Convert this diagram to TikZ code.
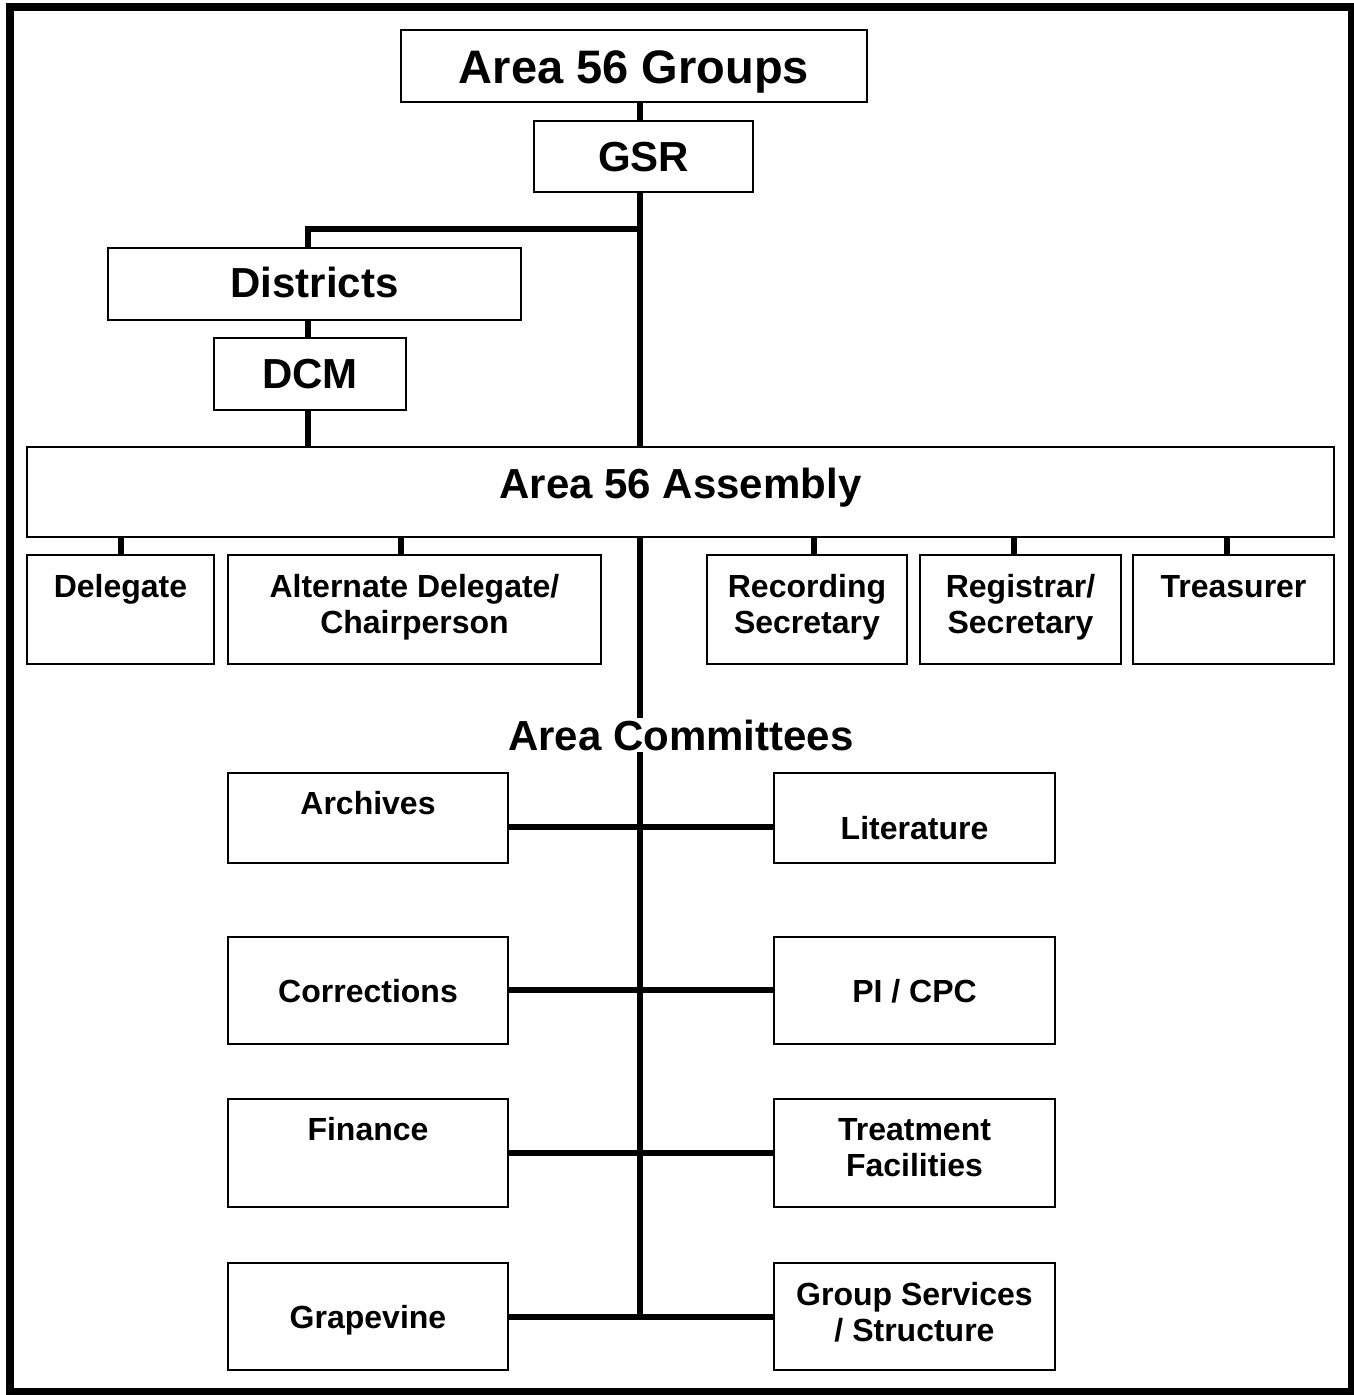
\documentclass[tikz,border=0pt]{standalone}
\usepackage{fontspec}
\setmainfont{Liberation Sans}
\usetikzlibrary{fit,calc}

\begin{document}
\begin{tikzpicture}[x=0.5pt,y=-0.5pt]
	% `unit' is used for the boxes (fitted to their two corners).
	% `link' is used for the thick connectors.
	\tikzstyle{unit} = [draw,line width=1pt,inner sep=0pt]
	\tikzstyle{link} = [line width=3pt]
	\tikzstyle{toptext} = [font=\bfseries\fontsize{23.5}{28}\selectfont,anchor=base,inner sep=0pt]
	\tikzstyle{bigtext} = [font=\bfseries\fontsize{21}{25}\selectfont,anchor=base,inner sep=0pt]
	\tikzstyle{smalltext} = [font=\bfseries\fontsize{16}{18}\selectfont,align=center,anchor=base,inner sep=0pt]
	%
	\useasboundingbox (0,0) rectangle (1353,1395);
	% Outer frame.
	\draw[line width=4pt] (10,7) rectangle (1352,1392);

	% Groups, districts and the assembly.
	\node[unit,fit={(401,30) (867,102)}] (groups) {};
	\node[unit,fit={(534,121) (753,192)}] (gsr) {};
	\node[unit,fit={(108,248) (521,320)}] (districts) {};
	\node[unit,fit={(214,338) (406,410)}] (dcm) {};
	\node[unit,fit={(27,447) (1334,537)}] (assembly) {};
	% Officers.
	\node[unit,fit={(27,555) (214,664)}] (delegate) {};
	\node[unit,fit={(228,555) (601,664)}] (alternate) {};
	\node[unit,fit={(707,555) (907,664)}] (recording) {};
	\node[unit,fit={(920,555) (1121,664)}] (registrar) {};
	\node[unit,fit={(1133,555) (1334,664)}] (treasurer) {};
	% Committees.
	\node[unit,fit={(228,773) (508,863)}] (archives) {};
	\node[unit,fit={(774,773) (1055,863)}] (literature) {};
	\node[unit,fit={(228,937) (508,1044)}] (corrections) {};
	\node[unit,fit={(774,937) (1055,1044)}] (pi) {};
	\node[unit,fit={(228,1099) (508,1207)}] (finance) {};
	\node[unit,fit={(774,1099) (1055,1207)}] (treatment) {};
	\node[unit,fit={(228,1263) (508,1370)}] (grapevine) {};
	\node[unit,fit={(774,1263) (1055,1370)}] (groupsvc) {};

	% Draw lines.
	\coordinate (split) at (640,229);
	\coordinate (dstem) at (308,229);
	\draw[link] (groups.south -| split) -- (gsr.north -| split);
	\draw[link] (gsr.south -| split) -- (assembly.north -| split);
	\draw[link] (split) -- (dstem) -- (districts.north -| dstem);
	\draw[link] (districts.south -| dstem) -- (dcm.north -| dstem);
	\draw[link] (dcm.south -| dstem) -- (assembly.north -| dstem);
	\foreach \b/\dx in {delegate/0.5,alternate/-13.5,recording/7,registrar/-6.5,treasurer/-6.5}
		\draw[link] ([shift={(\dx,0)}]\b.north) -- ++(0,-18);
	\coordinate (c1) at (640,827);
	\coordinate (c2) at (640,990);
	\coordinate (c3) at (640,1153);
	\coordinate (c4) at (640,1317);
	\draw[link] (assembly.south -| c1) -- (c4);
	\foreach \l/\r/\c in {archives/literature/c1,corrections/pi/c2,finance/treatment/c3,grapevine/groupsvc/c4}
		\draw[link] (\l.east |- \c) -- (\r.west |- \c);

	% Texts (two-line texts sit on the baseline of their last line).
	\node[toptext] (tgroups) at (634,84) {Area 56 Groups};
	\node[bigtext] (tgsr) at (gsr.north |- 0,172) {GSR};
	\node[bigtext] (tdistricts) at (districts.north |- 0,298) {Districts};
	\node[bigtext] (tdcm) at (dcm.north |- 0,389) {DCM};
	\node[bigtext] (tassembly) at (assembly.north |- 0,498) {Area 56 Assembly};
	\node[bigtext,fill=white,inner sep=1pt] (tcommittees) at (681,750) {Area Committees};
	\node[smalltext] (tdelegate) at (delegate.north |- 0,597) {Delegate};
	\node[smalltext] (talternate) at (alternate.north |- 0,633) {Alternate Delegate/\\Chairperson};
	\node[smalltext] (trecording) at (recording.north |- 0,633) {Recording\\Secretary};
	\node[smalltext] (tregistrar) at (registrar.north |- 0,633) {Registrar/\\Secretary};
	\node[smalltext] (ttreasurer) at (treasurer.north |- 0,597) {Treasurer};
	\node[smalltext] (tarchives) at (archives.north |- 0,814) {Archives};
	\node[smalltext] (tliterature) at (literature.north |- 0,839) {Literature};
	\node[smalltext] (tcorrections) at (corrections.north |- 0,1002) {Corrections};
	\node[smalltext] (tpi) at (pi.north |- 0,1002) {PI / CPC};
	\node[smalltext] (tfinance) at (finance.north |- 0,1140) {Finance};
	\node[smalltext] (ttreatment) at (treatment.north |- 0,1176) {Treatment\\Facilities};
	\node[smalltext] (tgrapevine) at (grapevine.north |- 0,1328) {Grapevine};
	\node[smalltext] (tgroupsvc) at (groupsvc.north |- 0,1341) {Group Services\\/ Structure};
\end{tikzpicture}
\end{document}
